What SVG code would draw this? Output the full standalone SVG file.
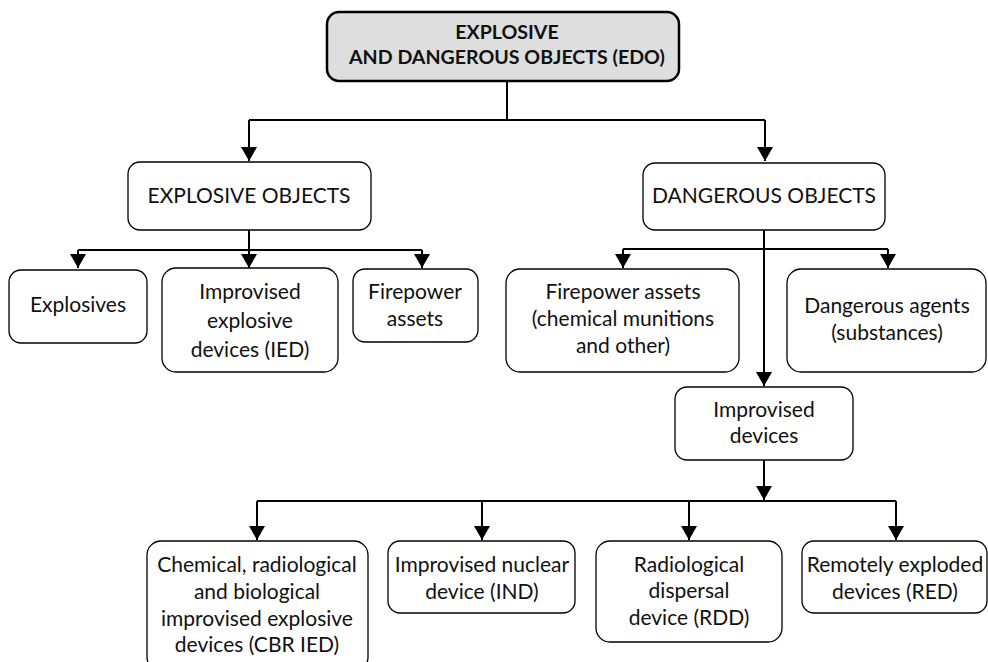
<svg xmlns="http://www.w3.org/2000/svg" width="988" height="662" viewBox="0 0 988 662">
<style>
.box{fill:#fff;stroke:#000;stroke-width:1.3}
.top{fill:#dedede;stroke:#000;stroke-width:2.5}
.t{font-family:Lato,"Open Sans",sans-serif;font-size:21px;fill:#111;text-anchor:middle}
.tb{font-family:Lato,"Open Sans",sans-serif;font-size:19.6px;font-weight:bold;fill:#111;text-anchor:middle}
.c{fill:none;stroke:#000;stroke-width:2}
</style>
<defs>
<marker id="ar" markerUnits="userSpaceOnUse" markerWidth="16" markerHeight="16" viewBox="0 0 14 16" refX="14" refY="8" orient="auto">
<path d="M0,0 L14,8 L0,16 z" fill="#000"/>
</marker>
</defs>
<g id="connectors">
<path class="c" d="M507,81 V120 M249,120 H765"/>
<path class="c" d="M249,120 V161" marker-end="url(#ar)"/>
<path class="c" d="M765,120 V161" marker-end="url(#ar)"/>
<path class="c" d="M249,230 V250 M78,250 H422"/>
<path class="c" d="M78,250 V268" marker-end="url(#ar)"/>
<path class="c" d="M249,250 V268" marker-end="url(#ar)"/>
<path class="c" d="M422,250 V268" marker-end="url(#ar)"/>
<path class="c" d="M623,249 H888"/>
<path class="c" d="M764,230 V386" marker-end="url(#ar)"/>
<path class="c" d="M623,249 V268" marker-end="url(#ar)"/>
<path class="c" d="M888,249 V268" marker-end="url(#ar)"/>
<path class="c" d="M764,460 V500" marker-end="url(#ar)"/>
<path class="c" d="M257,501 H896"/>
<path class="c" d="M257,501 V540" marker-end="url(#ar)"/>
<path class="c" d="M482,501 V540" marker-end="url(#ar)"/>
<path class="c" d="M689,501 V540" marker-end="url(#ar)"/>
<path class="c" d="M896,501 V540" marker-end="url(#ar)"/>
</g>
<g id="edo">
<rect class="top" x="327" y="12" width="352" height="69" rx="12"/>
<text class="tb" x="507" y="39">EXPLOSIVE</text>
<text class="tb" x="507" y="64">AND DANGEROUS OBJECTS (EDO)</text>
</g>
<g id="explosive-objects">
<rect class="box" x="128" y="162" width="243" height="68" rx="12"/>
<text class="t" x="249" y="203">EXPLOSIVE OBJECTS</text>
</g>
<g id="dangerous-objects">
<rect class="box" x="643" y="163" width="242" height="67" rx="12"/>
<text class="t" x="764" y="203">DANGEROUS OBJECTS</text>
</g>
<g id="explosives">
<rect class="box" x="9" y="270" width="138" height="73" rx="12"/>
<text class="t" x="78" y="312">Explosives</text>
</g>
<g id="ied">
<rect class="box" x="162" y="268" width="176" height="104" rx="14"/>
<text class="t" x="250" y="299">Improvised</text>
<text class="t" x="250" y="328">explosive</text>
<text class="t" x="250" y="357">devices (IED)</text>
</g>
<g id="firepower">
<rect class="box" x="353" y="269" width="125" height="73" rx="12"/>
<text class="t" x="415" y="299">Firepower</text>
<text class="t" x="415" y="326">assets</text>
</g>
<g id="firepower-chem">
<rect class="box" x="506" y="269" width="233" height="103" rx="14"/>
<text class="t" x="623" y="299">Firepower assets</text>
<text class="t" x="623" y="326">(chemical munitions</text>
<text class="t" x="623" y="353">and other)</text>
</g>
<g id="dangerous-agents">
<rect class="box" x="787" y="269" width="199" height="103" rx="14"/>
<text class="t" x="887" y="313">Dangerous agents</text>
<text class="t" x="887" y="340">(substances)</text>
</g>
<g id="improvised-devices">
<rect class="box" x="675" y="387" width="178" height="73" rx="12"/>
<text class="t" x="764" y="417">Improvised</text>
<text class="t" x="764" y="443">devices</text>
</g>
<g id="cbr-ied">
<rect class="box" x="147" y="541" width="221" height="130" rx="14"/>
<text class="t" x="257" y="572">Chemical, radiological</text>
<text class="t" x="257" y="599">and biological</text>
<text class="t" x="257" y="626">improvised explosive</text>
<text class="t" x="257" y="652">devices (CBR IED)</text>
</g>
<g id="ind">
<rect class="box" x="388" y="541" width="187" height="72" rx="12"/>
<text class="t" x="482" y="572">Improvised nuclear</text>
<text class="t" x="482" y="599">device (IND)</text>
</g>
<g id="rdd">
<rect class="box" x="596" y="541" width="186" height="101" rx="14"/>
<text class="t" x="689" y="572">Radiological</text>
<text class="t" x="689" y="598">dispersal</text>
<text class="t" x="689" y="625">device (RDD)</text>
</g>
<g id="red">
<rect class="box" x="802" y="541" width="185" height="72" rx="12"/>
<text class="t" x="895" y="572">Remotely exploded</text>
<text class="t" x="895" y="599">devices (RED)</text>
</g>
</svg>
